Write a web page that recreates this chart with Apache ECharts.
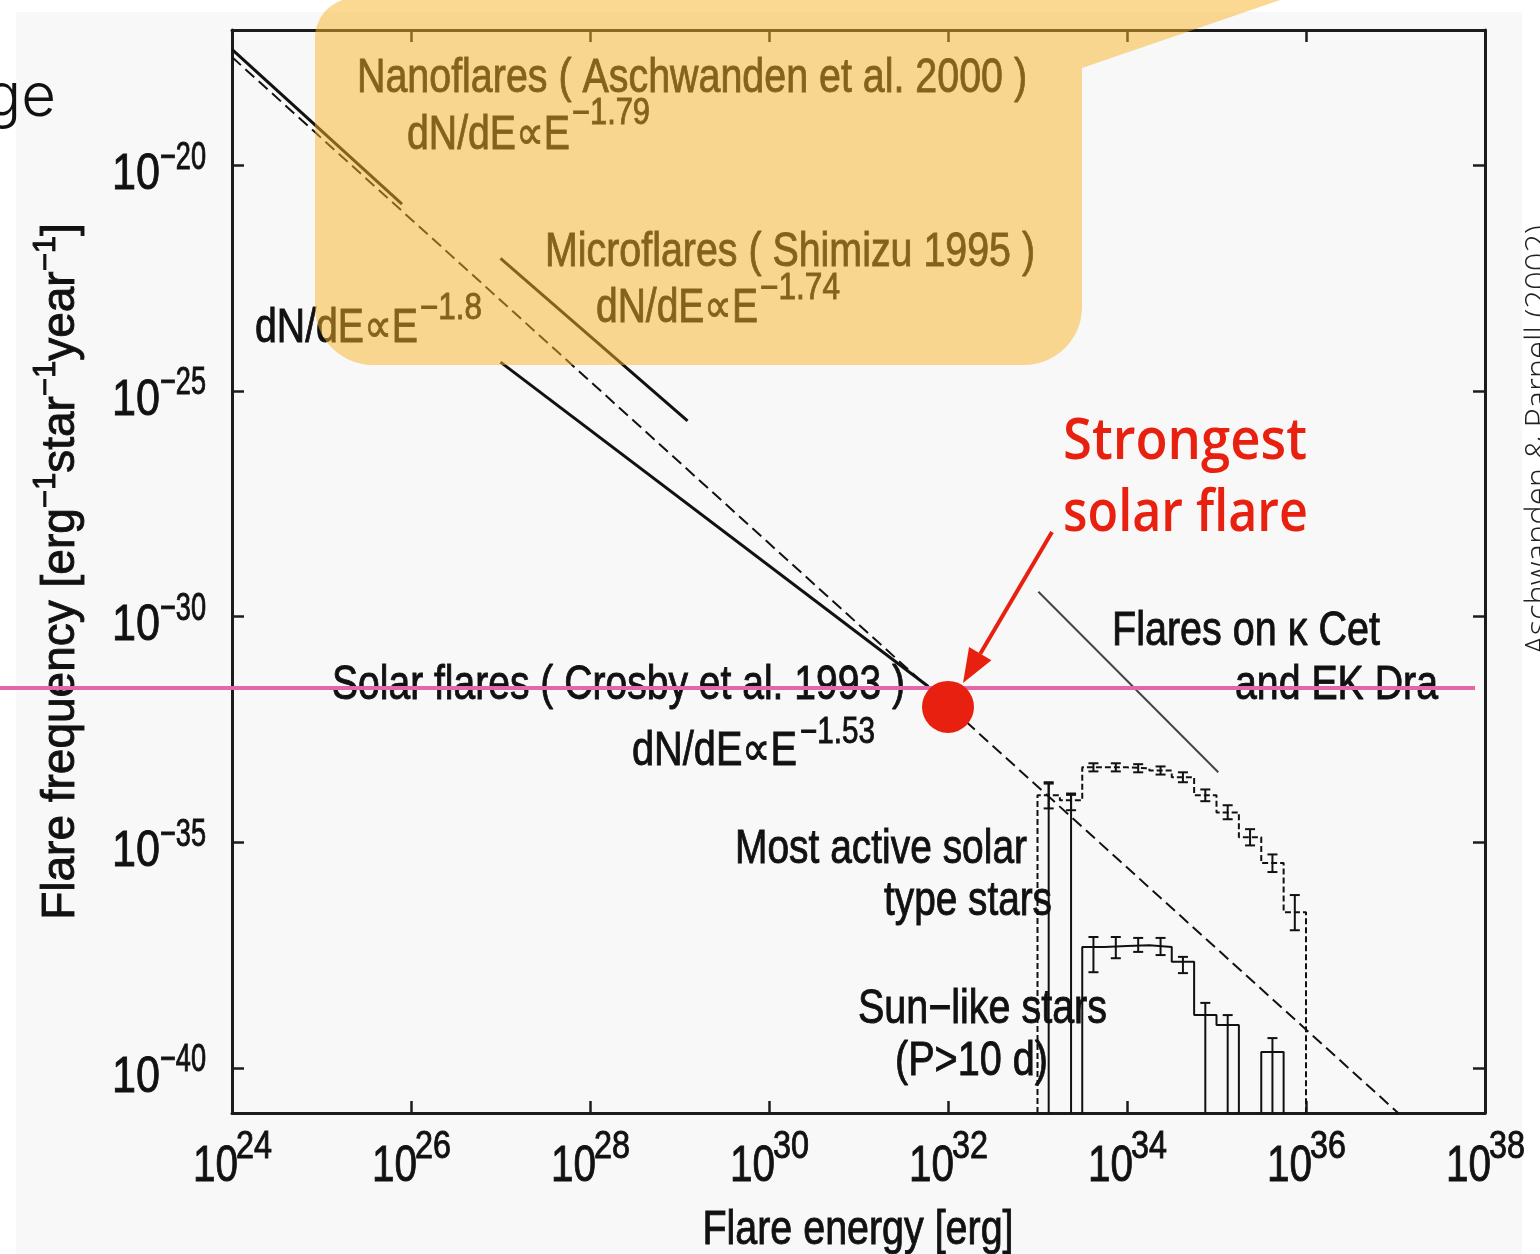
<!DOCTYPE html>
<html><head><meta charset="utf-8">
<script src="https://cdn.jsdelivr.net/npm/echarts@6/dist/echarts.min.js"></script>
<style>
html,body{margin:0;padding:0;background:#fff;overflow:hidden;}
#bg{position:absolute;left:16px;top:12px;width:1506px;height:1242px;background:#f8f8f8;}
#chart{position:absolute;left:0;top:0;width:1540px;height:1254px;}
</style></head><body>
<div id="bg"></div><div id="chart"></div>
<script>
// ---------- data (all values are log10 of erg / log10 of frequency) ----------
const xTicks = [24, 26, 28, 30, 32, 34, 36, 38];
const yTicks = [-40, -35, -30, -25, -20];

const nanoLogE   = [24.0, 25.9];
const nanoLogF   = [-17.43, -20.86];
const microLogE  = [27.0, 29.09];
const microLogF  = [-22.06, -25.66];
const crosbyLogE = [27.0, 31.78];
const crosbyLogF = [-24.36, -31.55];
const fitLogE    = [24.0, 37.03];
const fitLogF    = [-17.6, -41.0];
const cetLogE    = [33.01, 35.02];
const cetLogF    = [-29.45, -33.45];

const binCentres  = [33.125, 33.375, 33.625, 33.875, 34.125, 34.375, 34.625, 34.875, 35.125, 35.375, 35.625, 35.875];
const binWidth    = 0.25;
const activeLogF  = [-33.96, -34.07, -33.34, -33.34, -33.36, -33.41, -33.56, -33.96, -34.34, -34.89, -35.46, -36.55];
const activeErrHi = [-33.67, -33.92, -33.25, -33.25, -33.27, -33.32, -33.45, -33.83, -34.18, -34.71, -35.27, -36.17];
const activeErrLo = [-34.25, -34.29, -33.43, -33.43, -33.45, -33.50, -33.67, -34.09, -34.49, -35.07, -35.66, -36.95];
const sunLogF     = [null, null, -37.32, -37.30, -37.28, -37.32, -37.65, -38.83, -39.05, null, -39.65, null];
const sunErrHi    = [-33.70, -33.95, -37.10, -37.10, -37.12, -37.12, -37.54, -38.56, -38.83, null, -39.34, null];
const sunErrLo    = [-41, -41, -37.88, -37.57, -37.43, -37.50, -37.90, -41, -41, null, -41, null];

const strongestFlare = [32, -32];

const X_MIN = 24, X_MAX = 38, Y_MIN = -41, Y_MAX = -17;

// ---------- fonts ----------
const cv = document.createElement('canvas').getContext('2d');
function measure(text, size, family, weight) {
  cv.font = (weight || 'normal') + ' ' + size + 'px ' + family;
  return cv.measureText(text).width;
}
const REG = "'Liberation Sans', Arial, Helvetica, sans-serif";
const SLIDE = "'Open Sans', 'Noto Sans', sans-serif";
const INK = '#111';
const RED = '#E8200F';

// ---------- helpers ----------
const zip = (a, b) => a.map((v, i) => [v, b[i]]);

function histRuns(centres, vals, w, base) {
  const runs = [];
  let cur = null, lastR = null;
  centres.forEach((c, i) => {
    const v = vals[i];
    if (v == null) {
      if (cur) { cur.push([lastR, base]); runs.push(cur); cur = null; }
      return;
    }
    const l = c - w / 2, r = c + w / 2;
    if (!cur) cur = [[l, base]];
    cur.push([l, v], [r, v]);
    lastR = r;
  });
  if (cur) { cur.push([lastR, base]); runs.push(cur); }
  return runs;
}

function lineSeries(name, data, style, z) {
  return { type: 'line', name, data, symbol: 'none', showSymbol: false, clip: true, z: z || 3,
    lineStyle: style, emphasis: { disabled: true }, animation: false };
}

function errSeries(name, centres, hi, lo) {
  const data = [];
  centres.forEach((c, i) => { if (hi[i] != null) data.push([c, lo[i], hi[i]]); });
  return {
    type: 'custom', name, data, z: 4, animation: false,
    encode: { x: 0, y: [1, 2] },
    renderItem(params, api) {
      const x = api.value(0), l = api.value(1), h = api.value(2);
      const pL = api.coord([x, l]), pH = api.coord([x, h]);
      const cap = 5, st = { stroke: INK, lineWidth: 2 };
      const ch = [
        { type: 'line', shape: { x1: pL[0], y1: pL[1], x2: pH[0], y2: pH[1] }, style: st },
        { type: 'line', shape: { x1: pH[0] - cap, y1: pH[1], x2: pH[0] + cap, y2: pH[1] }, style: st }
      ];
      if (l > Y_MIN) ch.push({ type: 'line', shape: { x1: pL[0] - cap, y1: pL[1], x2: pL[0] + cap, y2: pL[1] }, style: st });
      return { type: 'group', children: ch };
    }
  };
}

// text fitted to a target width (horizontal scale only), anchored at x
function FT(text, x, y, size, width, align, o) {
  o = o || {};
  const family = o.family || REG, weight = o.weight || 'normal';
  const sx = width ? width / measure(text, size, family, weight) : 1;
  const style = { text, fontSize: size, fontFamily: family, fontWeight: weight, fill: o.fill || INK,
    align: align || 'left', verticalAlign: 'middle' };
  if (!o.family) { style.stroke = o.fill || INK; style.lineWidth = 0.9; }
  const el = { type: 'text', x, y, z: o.z || 5, silent: true, scaleX: sx, style };
  if (o.rotation != null) el.rotation = o.rotation;
  return el;
}

// ---------- series ----------
const series = [
  lineSeries('Nanoflares', zip(nanoLogE, nanoLogF), { color: INK, width: 3 }),
  lineSeries('Power law E^-1.8', zip(fitLogE, fitLogF), { color: INK, width: 2, type: [12, 6] }),
  lineSeries('Microflares', zip(microLogE, microLogF), { color: INK, width: 3 }),
  lineSeries('Solar flares', zip(crosbyLogE, crosbyLogF), { color: INK, width: 3 }),
  lineSeries('Flares on kappa Cet and EK Dra', zip(cetLogE, cetLogF), { color: '#444', width: 2 })
];
histRuns(binCentres, activeLogF, binWidth, Y_MIN).forEach((run, k) =>
  series.push(lineSeries('Most active solar type stars ' + k, run, { color: INK, width: 2, type: [6, 3] })));
histRuns(binCentres, sunLogF, binWidth, Y_MIN).forEach((run, k) =>
  series.push(lineSeries('Sun-like stars ' + k, run, { color: INK, width: 2 })));
series.push(errSeries('Most active errors', binCentres, activeErrHi, activeErrLo));
series.push(errSeries('Sun-like errors', binCentres, sunErrHi, sunErrLo));
series.push({ type: 'scatter', name: 'Strongest solar flare', data: [strongestFlare], symbol: 'circle',
  symbolSize: 52, itemStyle: { color: RED, opacity: 1 }, z: 10, animation: false, emphasis: { disabled: true } });

// ---------- axes ----------
const frame = { show: true, lineStyle: { color: '#1c1c1c', width: 3 } };
const tick = { show: true, inside: true, length: 12, lineStyle: { color: '#1c1c1c', width: 2.5 } };

const xAxes = [
  { type: 'value', min: X_MIN, max: X_MAX, interval: 2, position: 'bottom',
    axisLine: frame, axisTick: tick, splitLine: { show: false }, axisLabel: { show: false } },
  { type: 'value', min: X_MIN, max: X_MAX, interval: 2, position: 'top',
    axisLine: frame, axisTick: tick, splitLine: { show: false }, axisLabel: { show: false } }
];
const yAxes = [
  { type: 'value', min: Y_MIN, max: Y_MAX, position: 'left',
    axisLine: frame, axisTick: Object.assign({ customValues: yTicks }, tick), splitLine: { show: false },
    axisLabel: { show: false },
    name: 'Flare frequency [erg{s|\u22121}star{s|\u22121}year{s|\u22121}]', nameLocation: 'middle', nameGap: 140,
    nameTextStyle: { fontSize: 46, fontFamily: REG, color: INK, textBorderColor: INK, textBorderWidth: 0.9,
      rich: { s: { fontSize: 31, fontFamily: REG, color: INK, textBorderColor: INK, textBorderWidth: 0.9, padding: [0, 0, 30, 0] } } } },
  { type: 'value', min: Y_MIN, max: Y_MAX, position: 'right',
    axisLine: frame, axisTick: Object.assign({ customValues: yTicks }, tick), splitLine: { show: false },
    axisLabel: { show: false } }
];

const chart = echarts.init(document.getElementById('chart'), null, { renderer: 'canvas' });
chart.setOption({
  backgroundColor: 'transparent',
  animation: false,
  grid: { left: 232, right: 55, top: 30, bottom: 141, containLabel: false },
  xAxis: xAxes,
  yAxis: yAxes,
  series
});

// ---------- tick labels placed through the axes' own scales ----------
const axisBottom = chart.convertToPixel({ yAxisIndex: 0 }, Y_MIN);
const axisLeft = chart.convertToPixel({ xAxisIndex: 0 }, X_MIN);
const tickTexts = [];
xTicks.forEach(v => {
  const px = chart.convertToPixel({ xAxisIndex: 0 }, v);
  tickTexts.push(FT('10', px + 6, axisBottom + 54, 50, 45, 'right'));
  tickTexts.push(FT(String(v), px + 4, axisBottom + 35, 38, 36, 'left'));
});
yTicks.forEach(v => {
  const py = chart.convertToPixel({ yAxisIndex: 0 }, v);
  tickTexts.push(FT('10', axisLeft - 72, py + 10, 50, 48, 'right'));
  tickTexts.push(FT('\u2212' + Math.abs(v), axisLeft - 72, py - 7, 38, 46, 'left'));
});
tickTexts.push(FT('Flare energy [erg]', (axisLeft + chart.convertToPixel({ xAxisIndex: 0 }, X_MAX)) / 2 - 0.5, axisBottom + 118, 48, 311, 'center'));

// ---------- overlay graphics ----------
function boxPoints() {
  const pts = [];
  const arc = (cx, cy, r, a0, a1) => { for (let i = 0; i <= 14; i++) { const a = a0 + (a1 - a0) * i / 14; pts.push([cx + r * Math.cos(a), cy + r * Math.sin(a)]); } };
  pts.push([1286, -2]);
  pts.push([1082, 68]);
  arc(1082 - 58, 365 - 58, 58, 0, Math.PI / 2);
  arc(315 + 58, 365 - 58, 58, Math.PI / 2, Math.PI);
  arc(315 + 40, -2 + 40, 40, Math.PI, 1.5 * Math.PI);
  return pts;
}
function arrow(tail, tip, headLen, headHalf, width) {
  const dx = tip[0] - tail[0], dy = tip[1] - tail[1], L = Math.hypot(dx, dy);
  const ux = dx / L, uy = dy / L, nx = -uy, ny = ux;
  const bx = tip[0] - ux * headLen, by = tip[1] - uy * headLen;
  return [
    { type: 'line', z: 11, silent: true, shape: { x1: tail[0], y1: tail[1], x2: bx, y2: by }, style: { stroke: RED, lineWidth: width } },
    { type: 'polygon', z: 11, silent: true, shape: { points: [tip, [bx + nx * headHalf, by + ny * headHalf], [bx - nx * headHalf, by - ny * headHalf]] }, style: { fill: RED } }
  ];
}

const S = 48, SUP = 36;
const DN = 'dN/dE\u221DE';
const graphics = tickTexts.concat([
  FT('Nanoflares ( Aschwanden et al. 2000 )', 357, 79, S, 670),
  FT(DN, 407, 136, S, 163), FT('\u22121.79', 572, 114, SUP, 78),
  FT('Microflares ( Shimizu 1995 )', 545, 253, S, 490),
  FT(DN, 596, 309, S, 162), FT('\u22121.74', 760, 289, SUP, 80),
  FT(DN, 255, 329, S, 163), FT('\u22121.8', 420, 309, SUP, 62),
  FT('Solar flares ( Crosby et al. 1993 )', 332, 686, S, 573),
  FT(DN, 632, 752, S, 165), FT('\u22121.53', 800, 733, SUP, 75),
  FT('Flares on \u03BA Cet', 1112, 632, S, 268),
  FT('and EK Dra', 1438, 686, S, 203, 'right'),
  FT('Most active solar', 1027, 850, S, 292, 'right'),
  FT('type stars', 1052, 902, S, 168, 'right'),
  FT('Sun\u2212like stars', 858, 1010, S, 249),
  FT('(P>10 d)', 895, 1062, S, 153),
  // slide elements
  FT('ge', 56, 98, 60, 0, 'right', { family: "Inter, 'Noto Sans', sans-serif", weight: 300 }),
  FT('Aschwanden & Parnell (2002)', 1540, 440, 33, 430, 'center', { family: SLIDE, weight: 300, fill: '#222', rotation: Math.PI / 2 }),
  FT('Strongest', 1063, 443, 57, 244, 'left', { family: SLIDE, weight: 600, fill: RED }),
  FT('solar flare', 1063, 515, 57, 245, 'left', { family: SLIDE, weight: 600, fill: RED }),
  { type: 'line', z: 6, silent: true, shape: { x1: 0, y1: 688, x2: 1475, y2: 688 }, style: { stroke: '#E466A8', lineWidth: 4 } },
  ...arrow([1052, 532], [963, 683], 34, 13, 4),
  { type: 'polygon', z: 20, silent: true, shape: { points: boxPoints() }, style: { fill: 'rgba(250,180,38,0.5)' } }
]);

chart.setOption({ graphic: graphics });
</script>
</body></html>
